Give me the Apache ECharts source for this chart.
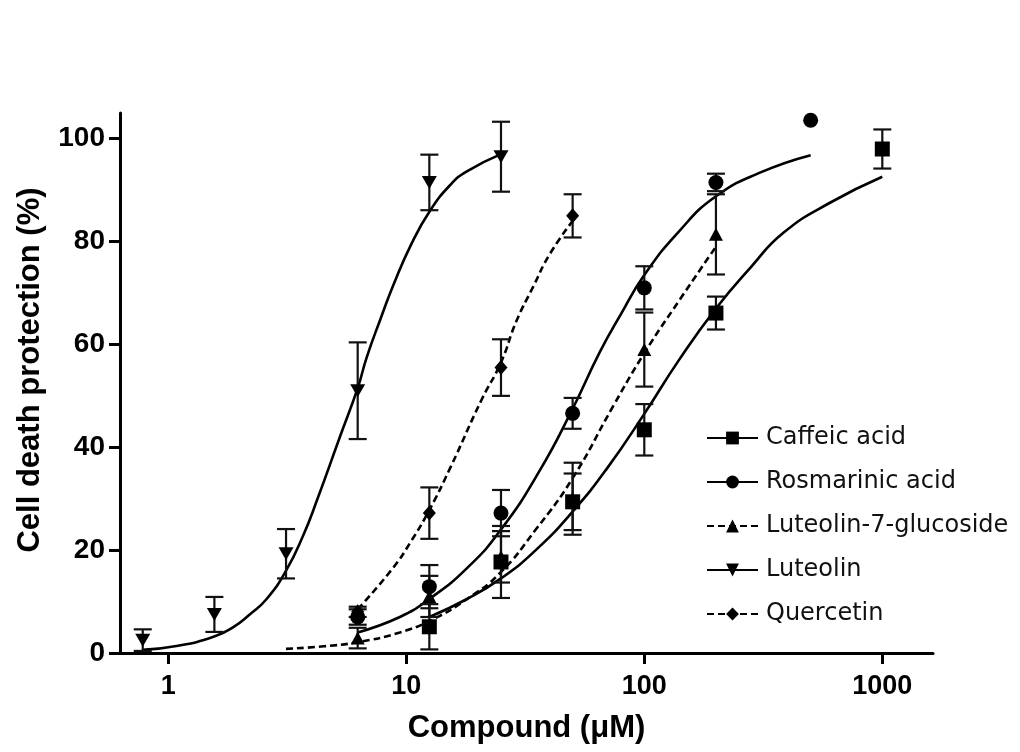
<!DOCTYPE html>
<html>
<head>
<meta charset="utf-8">
<script src="https://cdn.jsdelivr.net/npm/echarts@6/dist/echarts.min.js"></script>
<style>
  html, body { margin: 0; padding: 0; background: #fff; }
  #chart { width: 1020px; height: 752px; }
</style>
</head>
<body>
<div id="chart"></div>
<script>
// ---------- DATA ----------
const seriesNames = ['Caffeic acid', 'Rosmarinic acid', 'Luteolin-7-glucoside', 'Luteolin', 'Quercetin'];
const xTickValues = [1, 10, 100, 1000];
const yTickValues = [0, 20, 40, 60, 80, 100];

// measured points (concentration in µM, protection %, SEM)
const caffeicConc = [12.5, 25, 50, 100, 200, 1000];
const caffeicVal  = [5.1, 17.7, 29.4, 43.4, 66.1, 98.0];
const caffeicErr  = [4.4, 7.0, 5.5, 5.0, 3.2, 3.8];

const rosmarinicConc = [6.25, 12.5, 25, 50, 100, 200, 500];
const rosmarinicVal  = [7.0, 12.9, 27.2, 46.6, 71.0, 91.5, 103.6];
const rosmarinicErr  = [1.5, 4.2, 4.5, 3.0, 4.2, 1.7, 0];

const l7gConc = [6.25, 12.5, 25, 50, 100, 200];
const l7gVal  = [2.9, 11.0, 18.7, 30.0, 59.0, 81.4];
const l7gErr  = [2.0, 4.0, 5.0, 7.0, 7.2, 7.8];

const luteolinConc = [0.78125, 1.5625, 3.125, 6.25, 12.5, 25];
const luteolinVal  = [2.5, 7.5, 19.3, 51.0, 91.5, 96.5];
const luteolinErr  = [2.1, 3.4, 4.8, 9.4, 5.4, 6.8];

const quercetinConc = [6.25, 12.5, 25, 50];
const quercetinVal  = [8.0, 27.2, 55.5, 85.0];
const quercetinErr  = [1.0, 5.0, 5.5, 4.2];

// fitted curves
const caffeicCurveX = [12.5, 18, 25, 35, 50, 70, 100, 140, 200, 280, 384, 600, 1000];
const caffeicCurveY = [7.0, 10.5, 14.5, 20.0, 27.5, 36.0, 46.5, 57.0, 67.0, 75.0, 81.7, 87.5, 92.6];

const rosmarinicCurveX = [6.25, 9.4, 12.5, 18, 25, 36.4, 50, 65, 80, 100, 140, 200, 306, 500];
const rosmarinicCurveY = [4.0, 7.0, 10.5, 16.5, 24.0, 35.5, 47.5, 58.5, 66.0, 73.5, 82.0, 88.8, 93.4, 96.8];

const l7gCurveX = [3.125, 4.5, 6.25, 9.4, 13, 18, 24.7, 35, 50, 74, 100, 140, 200];
const l7gCurveY = [0.8, 1.3, 2.1, 4.0, 6.6, 10.5, 15.5, 24.0, 34.0, 48.0, 58.3, 68.5, 79.0];

const luteolinCurveX = [0.78, 1.1, 1.56, 1.87, 2.2, 2.59, 3.125, 3.7, 4.2, 5.26, 6.25, 6.82, 7.8, 8.82, 10.5, 12.58, 15.3, 17.9, 25];
const luteolinCurveY = [0.6, 1.4, 3.2, 5.0, 7.5, 10.5, 16.0, 23.0, 29.5, 42.0, 51.5, 57.5, 65.0, 71.5, 79.5, 86.0, 91.0, 93.6, 97.0];

const quercetinCurveX = [6.25, 8.82, 10.5, 12.5, 15.3, 20.7, 25, 29, 34.2, 40, 50];
const quercetinCurveY = [8.5, 16.6, 21.8, 27.8, 36.0, 49.2, 56.5, 64.5, 71.3, 77.5, 84.0];

// ---------- BUILD ----------
const FONT = '"Liberation Sans", Arial, Helvetica, sans-serif';
const LEGEND_FONT = '"DejaVu Sans", Verdana, sans-serif';
const INV_TRIANGLE = 'path://M0,0 L10,0 L5,9 Z';

const defs = [
  { name: seriesNames[0], conc: caffeicConc, val: caffeicVal, err: caffeicErr, cx: caffeicCurveX, cy: caffeicCurveY, symbol: 'rect', size: [15, 15], dashed: false },
  { name: seriesNames[1], conc: rosmarinicConc, val: rosmarinicVal, err: rosmarinicErr, cx: rosmarinicCurveX, cy: rosmarinicCurveY, symbol: 'circle', size: 15, dashed: false },
  { name: seriesNames[2], conc: l7gConc, val: l7gVal, err: l7gErr, cx: l7gCurveX, cy: l7gCurveY, symbol: 'triangle', size: [14, 13], dashed: true },
  { name: seriesNames[3], conc: luteolinConc, val: luteolinVal, err: luteolinErr, cx: luteolinCurveX, cy: luteolinCurveY, symbol: INV_TRIANGLE, size: [15, 13], dashed: false },
  { name: seriesNames[4], conc: quercetinConc, val: quercetinVal, err: quercetinErr, cx: quercetinCurveX, cy: quercetinCurveY, symbol: 'diamond', size: [13, 15], dashed: true }
];

const zip = (a, b) => a.map((v, i) => [v, b[i]]);

const series = [];
// curves first (so legend picks line icons)
defs.forEach(d => {
  series.push({
    name: d.name,
    type: 'line',
    data: zip(d.cx, d.cy),
    smooth: 0.5,
    showSymbol: false,
    symbol: d.symbol,
    symbolSize: d.size,
    lineStyle: { color: '#000', width: 2.6, type: d.dashed ? [7, 4] : 'solid' },
    itemStyle: { color: '#000' },
    emphasis: { disabled: true },
    z: 2,
    animation: false
  });
});
// error bars
defs.forEach(d => {
  series.push({
    name: d.name + ' SEM',
    type: 'custom',
    data: d.conc.map((c, i) => [c, d.val[i], d.err[i]]),
    renderItem: function (params, api) {
      const x = api.value(0), y = api.value(1), e = api.value(2);
      if (!e) return null;
      const top = api.coord([x, y + e]);
      const bot = api.coord([x, y - e]);
      const w = 9;
      const st = { stroke: '#111', lineWidth: 2.2 };
      return {
        type: 'group',
        children: [
          { type: 'line', shape: { x1: top[0], y1: top[1], x2: bot[0], y2: bot[1] }, style: st },
          { type: 'line', shape: { x1: top[0] - w, y1: top[1], x2: top[0] + w, y2: top[1] }, style: st },
          { type: 'line', shape: { x1: bot[0] - w, y1: bot[1], x2: bot[0] + w, y2: bot[1] }, style: st }
        ]
      };
    },
    z: 3,
    silent: true,
    animation: false
  });
});
// markers
defs.forEach(d => {
  series.push({
    name: d.name,
    type: 'scatter',
    data: zip(d.conc, d.val),
    symbol: d.symbol,
    symbolSize: d.size,
    itemStyle: { color: '#000', opacity: 1 },
    emphasis: { disabled: true },
    z: 4,
    animation: false
  });
});

const chart = echarts.init(document.getElementById('chart'), null, { renderer: 'canvas' });
chart.setOption({
  backgroundColor: '#fff',
  animation: false,
  grid: { left: 120, right: 87, top: 113, bottom: 99, containLabel: false },
  legend: {
    data: seriesNames,
    orient: 'vertical',
    left: 701,
    top: 420,
    itemWidth: 51,
    itemHeight: 16,
    itemGap: 18,
    selectedMode: false,
    textStyle: { fontFamily: LEGEND_FONT, fontSize: 24, color: '#111', lineHeight: 26, padding: [0, 0, 0, 3] }
  },
  xAxis: {
    type: 'log',
    logBase: 10,
    min: 0.627,
    max: 1633,
    name: 'Compound (\u03BCM)',
    nameLocation: 'middle',
    nameGap: 60,
    nameTextStyle: { fontFamily: FONT, fontSize: 31, fontWeight: 'bold', color: '#000' },
    axisLine: { lineStyle: { color: '#000', width: 3 } },
    axisTick: { show: true, length: 11, inside: false, customValues: xTickValues, lineStyle: { color: '#000', width: 3 } },
    axisLabel: {
      customValues: xTickValues, margin: 20, fontFamily: FONT, fontSize: 27, fontWeight: 'bold', color: '#000',
      formatter: function (v) { return String(Math.round(v)); }
    },
    minorTick: { show: false },
    splitLine: { show: false }
  },
  yAxis: {
    type: 'value',
    min: 0,
    max: 105,
    name: 'Cell death protection (%)',
    nameLocation: 'middle',
    nameGap: 74,
    nameTextStyle: { fontFamily: FONT, fontSize: 31, fontWeight: 'bold', color: '#000', padding: [0, 0, 0, 26] },
    axisLine: { show: true, lineStyle: { color: '#000', width: 3 } },
    axisTick: { show: true, length: 11, customValues: yTickValues, lineStyle: { color: '#000', width: 3 } },
    axisLabel: { customValues: yTickValues, margin: 15, fontFamily: FONT, fontSize: 28, fontWeight: 'bold', color: '#000' },
    splitLine: { show: false }
  },
  series: series
});
</script>
</body>
</html>
